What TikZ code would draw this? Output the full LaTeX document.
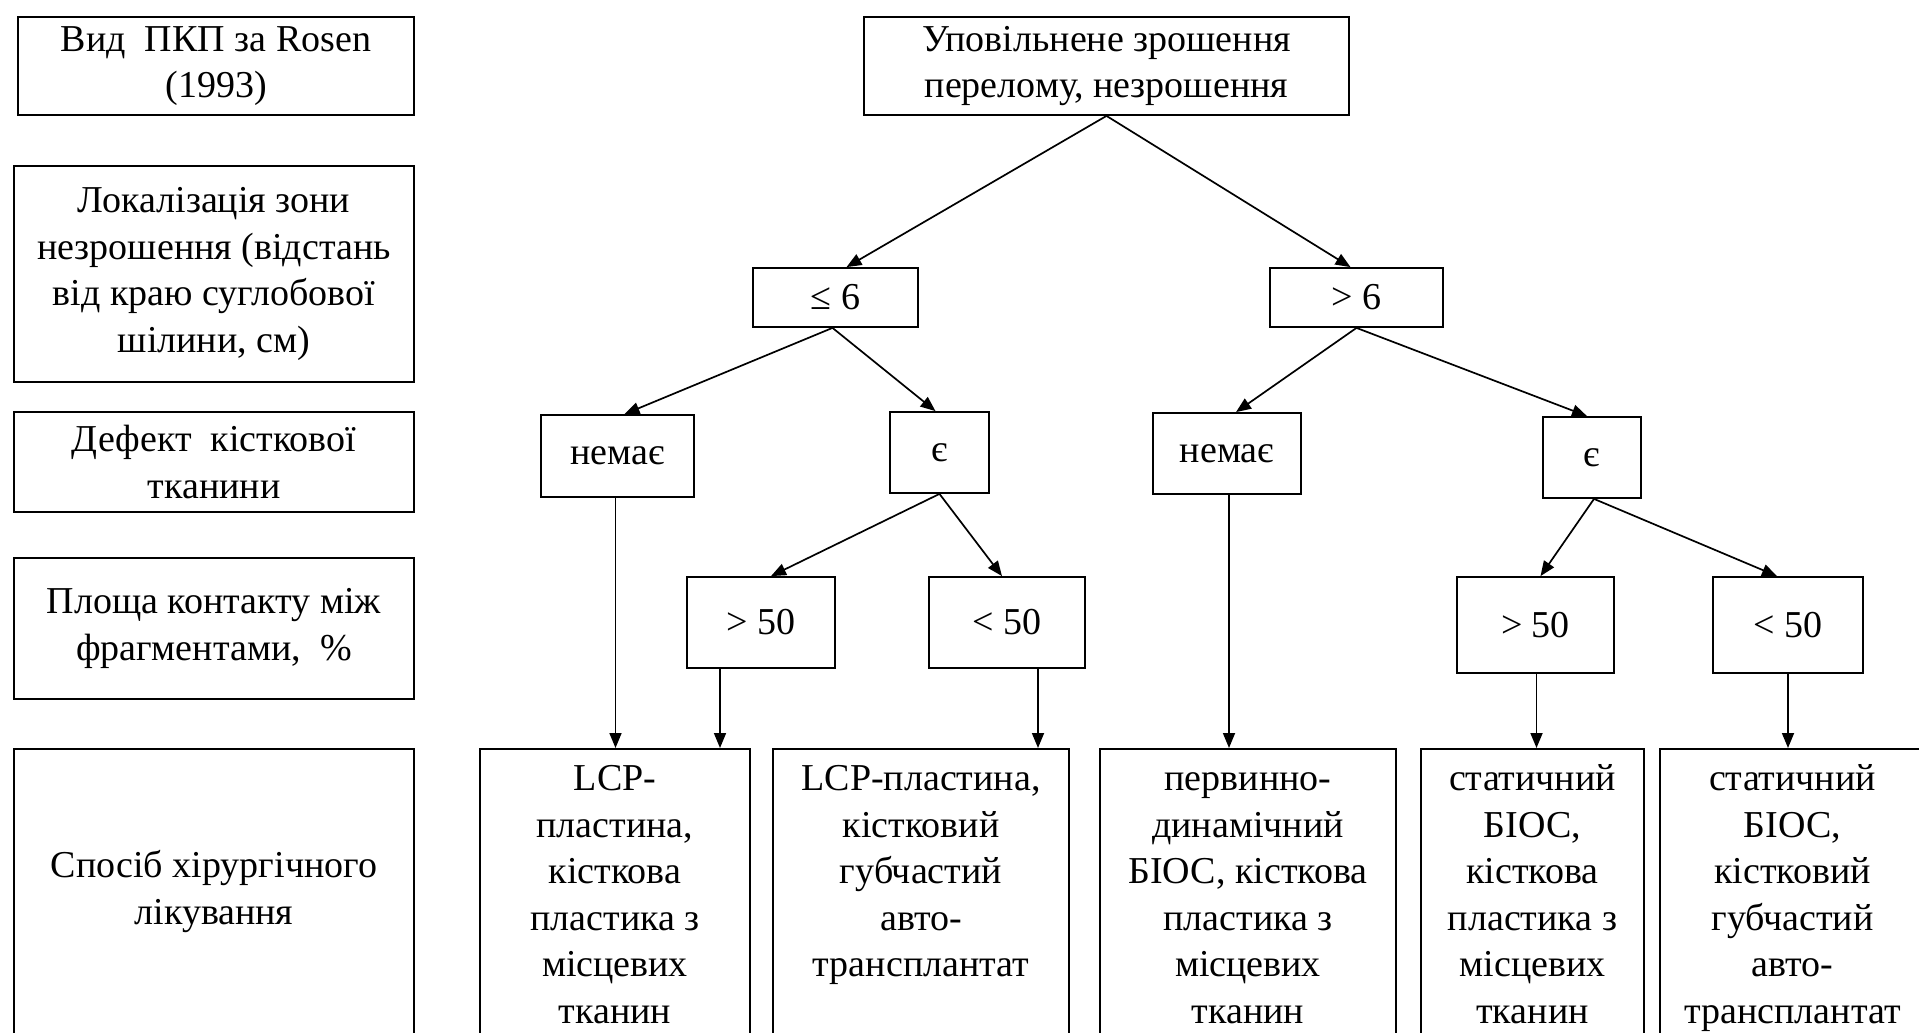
\documentclass[tikz,border=0pt]{standalone}
\usepackage{fontspec}
\setmainfont{Liberation Serif}
\usetikzlibrary{arrows.meta}
\tikzset{
  box/.style={draw=black, line width=1.8pt, inner sep=0pt, align=center,
    font=\fontsize{38}{46.5}\selectfont},
  conn/.style={line width=1.7pt, -{Triangle[length=15pt,width=12pt]}},
}
% name, x1, y1, x2, y2, text
\newcommand\boxnode[6]{%
  \node[box, minimum width={(#4-#2)*1pt}, minimum height={(#5-#3)*1pt}]
    (#1) at ({(#2+#4)/2},{(#3+#5)/2}) {#6};}
% name, x1, x2, first-line offset, text  (box open at the bottom)
\newcommand\leafnode[5]{%
  \node[box, anchor=north] (#1) at ({(#2+#3)/2},748)
    {\begin{minipage}[t][312pt][t]{\dimexpr #3pt-#2pt\relax}\centering
      \rule{0pt}{#4pt}#5\end{minipage}};}
\begin{document}
\begin{tikzpicture}[x=1pt,y=-1pt]
\useasboundingbox (0,0) rectangle (1919,1033);
\fill[white] (0,0) rectangle (1919,1033);
\clip (0,0) rectangle (1919,1033);

% left legend column
\boxnode{c1}{18}{17}{414}{115}{Вид\ \ ПКП за Rosen\\(1993)}
\boxnode{c2}{14}{166}{414}{382}{Локалізація зони\\незрошення (відстань\\від краю суглобової\\шілини, см)}
\boxnode{c3}{14}{412}{414}{512}{Дефект\ \ кісткової\\тканини}
\boxnode{c4}{14}{558}{414}{699}{Площа контакту між\\фрагментами,\ \ \%}
\leafnode{c5}{14}{414}{129}{Спосіб хірургічного\\лікування}

% tree
\boxnode{top}{864}{17}{1349}{115}{Уповільнене зрошення\\перелому, незрошення}
\boxnode{le}{753}{268}{918}{327}{≤ 6}
\boxnode{gt}{1270}{268}{1443}{327}{> 6}
\boxnode{n1}{541}{415}{694}{497}{немає}
\boxnode{e1}{890}{412}{989}{493}{є}
\boxnode{n2}{1153}{413}{1301}{494}{немає}
\boxnode{e2}{1543}{417}{1641}{498}{є}
\boxnode{p1}{687}{577}{835}{668}{> 50}
\boxnode{q1}{929}{577}{1085}{668}{< 50}
\boxnode{p2}{1457}{577}{1614}{673}{> 50}
\boxnode{q2}{1713}{577}{1863}{673}{< 50}

\leafnode{l1}{480}{750}{42}{LCP-\\пластина,\\кісткова\\пластика з\\місцевих\\тканин}
\leafnode{l2}{773}{1069}{42}{LCP-пластина,\\кістковий\\губчастий\\авто-\\трансплантат}
\leafnode{l3}{1100}{1396}{42}{первинно-\\динамічний\\БІОС, кісткова\\пластика з\\місцевих\\тканин}
\leafnode{l4}{1421}{1644}{42}{статичний\\БІОС,\\кісткова\\пластика з\\місцевих\\тканин}
\leafnode{l5}{1660}{1925}{42}{статичний\\БІОС,\\кістковий\\губчастий\\авто-\\трансплантат}

% connectors
\draw[conn] (top.south) -- ([xshift=11pt]le.north);
\draw[conn] (top.south) -- ([xshift=-6pt]gt.north);
\draw[conn] ([xshift=-3pt]le.south) -- ([xshift=7pt]n1.north);
\draw[conn] ([xshift=-3pt]le.south) -- ([xshift=-4pt]e1.north);
\draw[conn] (gt.south) -- ([xshift=9pt]n2.north);
\draw[conn] (gt.south) -- ([xshift=-5pt]e2.north);
\draw[conn] ([xshift=-2pt]n1.south) -- ([xshift=-2pt]n1.south |- l1.north);
\draw[conn] (e1.south) -- ([xshift=10pt]p1.north);
\draw[conn] (e1.south) -- ([xshift=-5pt]q1.north);
\draw[conn] ([xshift=-41pt]p1.south) -- ([xshift=-41pt]p1.south |- l1.north);
\draw[conn] ([xshift=31pt]q1.south) -- ([xshift=31pt]q1.south |- l2.north);
\draw[conn] ([xshift=2pt]n2.south) -- ([xshift=2pt]n2.south |- l3.north);
\draw[conn] ([xshift=2pt]e2.south) -- ([xshift=5pt]p2.north);
\draw[conn] ([xshift=2pt]e2.south) -- ([xshift=-11pt]q2.north);
\draw[conn] ([xshift=1pt]p2.south) -- ([xshift=1pt]p2.south |- l4.north);
\draw[conn] (q2.south) -- (q2.south |- l5.north);
\end{tikzpicture}
\end{document}
